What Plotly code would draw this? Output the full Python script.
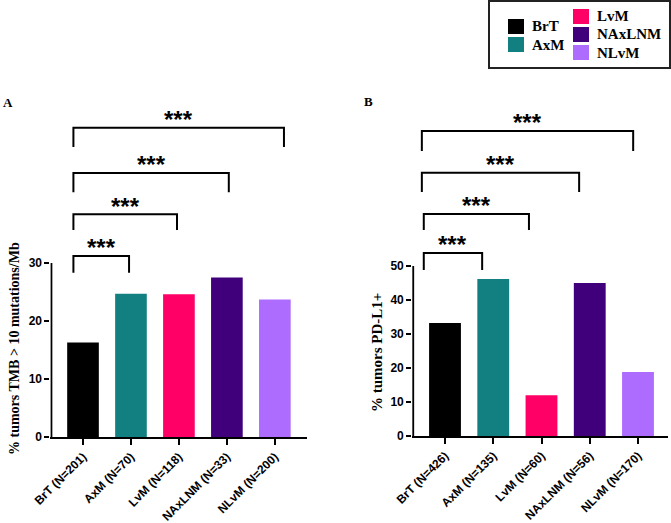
import plotly.graph_objects as go

# ---- data ----
groups = ["BrT", "AxM", "LvM", "NAxLNM", "NLvM"]
colors = ["#000000", "#128080", "#ff0066", "#40007c", "#ae6cff"]
tmb_labels = ["BrT (N=201)", "AxM (N=70)", "LvM (N=118)", "NAxLNM (N=33)", "NLvM (N=200)"]
tmb_values = [16.3, 24.7, 24.6, 27.5, 23.7]
pdl1_labels = ["BrT (N=426)", "AxM (N=135)", "LvM (N=60)", "NAxLNM (N=56)", "NLvM (N=170)"]
pdl1_values = [33.2, 46.2, 12.0, 45.0, 18.8]
tmb_ticks = [0, 10, 20, 30]
pdl1_ticks = [0, 10, 20, 30, 40, 50]
# brackets: (left x, right x, leg bottom, top) in data units
tmb_brackets = [(-0.2, 0.96, 28.3, 31.2), (-0.2, 1.96, 35.7, 38.4),
                (-0.2, 3.04, 42.2, 45.5), (-0.2, 4.19, 50.0, 53.3)]
pdl1_brackets = [(-0.44, 0.77, 48.8, 53.8), (-0.44, 1.74, 60.6, 65.3),
                 (-0.48, 2.78, 71.8, 77.4), (-0.48, 3.9, 83.8, 89.7)]
sig_label = "***"

W, H = 671, 523
fig = go.Figure()

fig.add_trace(go.Bar(x=list(range(5)), y=tmb_values, marker=dict(color=colors, line=dict(width=0)),
                     width=0.66, xaxis="x", yaxis="y", showlegend=False))
fig.add_trace(go.Bar(x=list(range(5)), y=pdl1_values, marker=dict(color=colors, line=dict(width=0)),
                     width=0.66, xaxis="x2", yaxis="y2", showlegend=False))

tickfont = dict(family="Liberation Sans, Arial", size=12, color="black")
xtickfont = dict(family="Liberation Sans, Arial", size=12, color="black")

def xaxis(domain, labels, rng, anchor):
    return dict(domain=domain, range=rng, anchor=anchor, tickmode="array",
                tickvals=list(range(5)), ticktext=["<b>%s</b>" % t for t in labels],
                tickangle=-45, ticks="outside", ticklen=6, tickwidth=2, tickcolor="black",
                showline=True, linewidth=2, linecolor="black", showgrid=False,
                zeroline=False, tickfont=xtickfont, fixedrange=True, automargin=False)

def yaxis(domain, rng, ticks, anchor):
    return dict(domain=domain, range=rng, anchor=anchor, tickmode="array",
                tickvals=ticks, ticktext=["<b>%d</b>" % t for t in ticks],
                ticks="outside", ticklen=5, tickwidth=2, tickcolor="black",
                showline=False, showgrid=False, zeroline=False, tickfont=tickfont,
                fixedrange=True, automargin=False)

fig.update_layout(
    width=W, height=H, margin=dict(l=0, r=0, t=0, b=0, autoexpand=False),
    paper_bgcolor="white", plot_bgcolor="rgba(0,0,0,0)",
    xaxis=xaxis([0.0751, 0.4575], tmb_labels, [-0.68, 4.67], "y"),
    yaxis=yaxis([0.16444, 0.82983], [0, 60], tmb_ticks, "x"),
    xaxis2=xaxis([0.6143, 0.9954], pdl1_labels, [-0.68, 4.62], "y2"),
    yaxis2=yaxis([0.16635, 0.81644], [0, 100], pdl1_ticks, "x2"),
    bargap=0.3,
)

shapes = []
annotations = []
line = dict(color="black", width=2)

# y axis lines (only up to last tick)
for xr, yr, ticks, xmin in [("x", "y", tmb_ticks, -0.66), ("x2", "y2", pdl1_ticks, -0.66)]:
    shapes.append(dict(type="line", xref=xr, yref=yr, x0=xmin, x1=xmin, y0=0, y1=ticks[-1], line=line))

# significance brackets
for xr, yr, brs, off in [("x", "y", tmb_brackets, 1.4), ("x2", "y2", pdl1_brackets, 2.4)]:
    for (x0, x1, yb, yt) in brs:
        shapes.append(dict(type="path", xref=xr, yref=yr,
                           path=f"M {x0},{yb} L {x0},{yt} L {x1},{yt} L {x1},{yb}",
                           line=line))
        annotations.append(dict(xref=xr, yref=yr, x=(x0 + x1) / 2, y=yt + off, text="<b>%s</b>" % sig_label,
                                showarrow=False, font=dict(family="Liberation Sans, Arial", size=24, color="black"),
                                xanchor="center", yanchor="middle"))

serif = "Liberation Serif, Times New Roman"
# y titles
annotations.append(dict(xref="paper", yref="paper", x=14 / W, y=1 - 349 / H, textangle=-90,
                        text="<b>% tumors TMB > 10 mutations/Mb</b>", showarrow=False,
                        font=dict(family=serif, size=14, color="black"), xanchor="center", yanchor="middle"))
annotations.append(dict(xref="paper", yref="paper", x=377 / W, y=1 - 353 / H, textangle=-90,
                        text="<b>% tumors PD-L1+</b>", showarrow=False,
                        font=dict(family=serif, size=15, color="black"), xanchor="center", yanchor="middle"))
# panel letters
annotations.append(dict(xref="paper", yref="paper", x=1 / W, y=1 - 102 / H, text="<b>A</b>", showarrow=False,
                        font=dict(family=serif, size=13, color="black"), xanchor="left", yanchor="middle"))
annotations.append(dict(xref="paper", yref="paper", x=362 / W, y=1 - 101 / H, text="<b>B</b>", showarrow=False,
                        font=dict(family=serif, size=13, color="black"), xanchor="left", yanchor="middle"))

# custom legend
shapes.append(dict(type="rect", xref="paper", yref="paper", x0=489 / W, x1=670 / W, y0=1 - 68 / H, y1=1 - 1 / H,
                   line=dict(color="#222222", width=2), fillcolor="white", layer="below"))
leg_pos = [(508, 19), (508, 37), (573, 9), (573, 27), (573, 45)]
for g, c, (px, py) in zip(groups, colors, leg_pos):
    shapes.append(dict(type="rect", xref="paper", yref="paper", x0=px / W, x1=(px + 16) / W,
                       y0=1 - (py + 15) / H, y1=1 - py / H, line=dict(width=0), fillcolor=c))
    annotations.append(dict(xref="paper", yref="paper", x=(px + 22) / W, y=1 - (py + 7.5) / H,
                            text="<b>%s</b>" % g, showarrow=False, xanchor="left", yanchor="middle",
                            font=dict(family=serif, size=15, color="black")))

fig.update_layout(shapes=shapes, annotations=annotations)
fig.write_html("out.html", config={"displayModeBar": False},
               post_script="document.body.style.margin='0';document.body.style.overflow='hidden';")
